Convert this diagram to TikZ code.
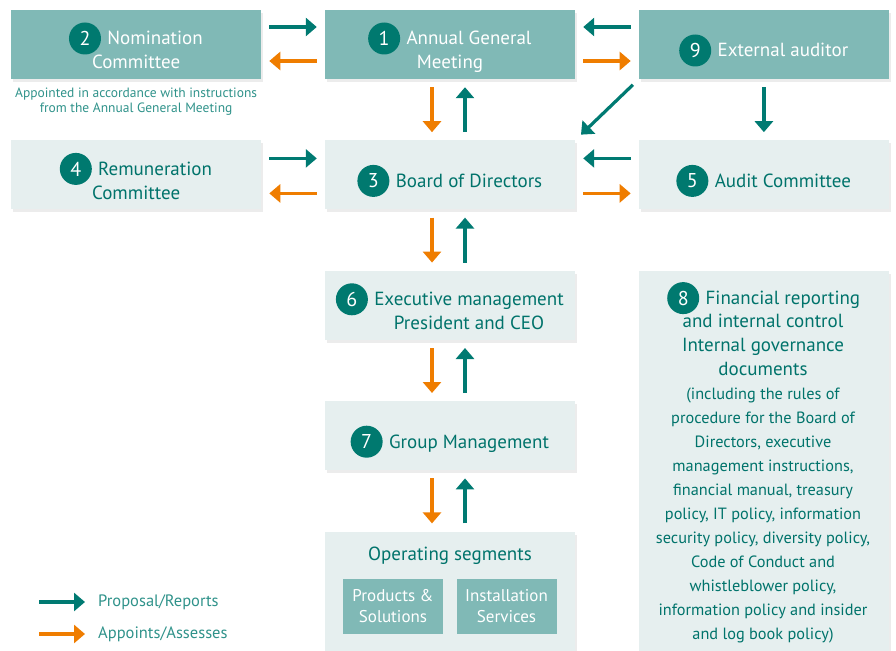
\documentclass[tikz,border=0pt]{standalone}
\usepackage{fontspec}
\setmainfont{PT Sans}
\usetikzlibrary{arrows.meta, positioning, shadows}

\definecolor{unitdark}{HTML}{80B9B6}
\definecolor{unitlight}{HTML}{E6EFEF}
\definecolor{badgeteal}{HTML}{00796F}
\definecolor{titleteal}{HTML}{00736B}
\definecolor{noteteal}{HTML}{2F928A}
\definecolor{reportteal}{HTML}{007A72}
\definecolor{assessorange}{HTML}{EF7D00}

\tikzstyle{unit} = [rectangle, minimum width=250pt, minimum height=69pt, inner sep=0pt, drop shadow={shadow xshift=2pt, shadow yshift=-3pt, opacity=0.15}]
\tikzstyle{darkunit} = [unit, fill=unitdark]
\tikzstyle{lightunit} = [unit, fill=unitlight]
\tikzstyle{segment} = [rectangle, fill=unitdark, minimum width=100pt, minimum height=55pt, inner sep=0pt, text=white, align=center, font=\fontsize{17}{21}\selectfont]
\tikzstyle{title} = [inner sep=0pt, text height=13pt, text depth=0pt, font=\fontsize{19}{24}\selectfont]
\tikzstyle{darktitle} = [title, text=white]
\tikzstyle{lighttitle} = [title, text=titleteal]
\tikzstyle{doctext} = [inner sep=0pt, text=titleteal, align=center, anchor=north]
\tikzstyle{badge} = [circle, fill=badgeteal, text=white, minimum size=32pt, inner sep=0pt, font=\fontsize{20}{20}\selectfont]
\tikzstyle{note} = [inner sep=0pt, text=noteteal, align=center, font=\fontsize{13.5}{15}\selectfont]
\tikzstyle{legend} = [inner sep=0pt, text=noteteal, font=\fontsize{16.5}{16.5}\selectfont]
\tikzstyle{report} = [draw=reportteal, line width=3.2pt, -{Triangle[length=11pt, width=18pt]}, shorten <=8pt, shorten >=8pt]
\tikzstyle{assess} = [report, draw=assessorange]

\begin{document}
\begin{tikzpicture}[x=1pt, y=-1pt, node distance=61pt and 63.5pt]
\useasboundingbox (0,0) rectangle (896,650);

% Units (boxes)
\node[darkunit] (agm) at (450,44.5) {};
\node[darkunit, left=of agm] (nom) {};
\node[darkunit, right=of agm] (ext) {};
\node[lightunit, below=of nom] (rem) {};
\node[lightunit, below=of agm] (board) {};
\node[lightunit, below=of ext] (audit) {};
\node[lightunit, below=of board] (exec) {};
\node[lightunit, below=of exec] (group) {};
\node[lightunit, below=of group, minimum height=120pt] (segments) {};
\node[lightunit, below=of audit, minimum height=380pt] (docs) {};
\node[segment] (products) at (393,606) {Products \&\\Solutions};
\node[segment] (install) at (506.5,606) {Installation\\Services};

% Titles and numbers
\node[darktitle] (nomtop) at ([xshift=19pt, yshift=6pt]nom.center) {Nomination};
\node[badge, left=6pt of nomtop] (nomnr) {2};
\node[darktitle] (nombot) at ([yshift=-18pt]nom.center) {Committee};
\node[note, below=9pt of nom] (nomnote) {Appointed in accordance with instructions\\from the Annual General Meeting};

\node[darktitle] (agmtop) at ([xshift=19pt, yshift=6pt]agm.center) {Annual General};
\node[badge, left=6pt of agmtop] (agmnr) {1};
\node[darktitle] (agmbot) at ([yshift=-18pt]agm.center) {Meeting};

\node[darktitle] (exttop) at ([xshift=19pt, yshift=-6pt]ext.center) {External auditor};
\node[badge, left=6pt of exttop] (extnr) {9};

\node[lighttitle] (remtop) at ([xshift=19pt, yshift=6pt]rem.center) {Remuneration};
\node[badge, left=6pt of remtop] (remnr) {4};
\node[lighttitle] (rembot) at ([yshift=-18pt]rem.center) {Committee};

\node[lighttitle] (boardtop) at ([xshift=19pt, yshift=-6pt]board.center) {Board of Directors};
\node[badge, left=6pt of boardtop] (boardnr) {3};

\node[lighttitle] (audittop) at ([xshift=19pt, yshift=-6pt]audit.center) {Audit Committee};
\node[badge, left=6pt of audittop] (auditnr) {5};

\node[lighttitle] (exectop) at ([xshift=19pt, yshift=6pt]exec.center) {Executive management};
\node[badge, left=6pt of exectop] (execnr) {6};
\node[lighttitle] (execbot) at ([yshift=-24pt]exectop.center) {President and CEO};

\node[lighttitle] (grouptop) at ([xshift=19pt, yshift=-6pt]group.center) {Group Management};
\node[badge, left=6pt of grouptop] (groupnr) {7};

\node[lighttitle] (segtop) at ([yshift=-23pt]segments.north) {Operating segments};

\node[lighttitle] (docstop) at ([xshift=19pt, yshift=-27.5pt]docs.north) {Financial reporting};
\node[badge, left=6pt of docstop] (docsnr) {8};
\node[doctext, font=\fontsize{19}{24}\selectfont] (docshead) at (763,314) {and internal control\\Internal governance\\documents};
\node[doctext, font=\fontsize{16.3}{24}\selectfont] (docsbody) at (763,388) {(including the rules of\\procedure for the Board of\\Directors, executive\\management instructions,\\financial manual, treasury\\policy, IT policy, information\\security policy, diversity policy,\\Code of Conduct and\\whistleblower policy,\\information policy and insider\\and log book policy)};

% Arrows (Proposal/Reports and Appoints/Assesses)
\draw[report] ([yshift=17.5pt]nom.east) -- ([yshift=17.5pt]agm.west);
\draw[assess] ([yshift=-16.5pt]agm.west) -- ([yshift=-16.5pt]nom.east);
\draw[report] ([yshift=17.5pt]ext.west) -- ([yshift=17.5pt]agm.east);
\draw[assess] ([yshift=-16.5pt]agm.east) -- ([yshift=-16.5pt]ext.west);
\draw[assess] ([xshift=-18pt]agm.south) -- ([xshift=-18pt]board.north);
\draw[report] ([xshift=15pt]board.north) -- ([xshift=15pt]agm.south);
\draw[report] (ext.south west) -- (board.north east);
\draw[report] (ext) -- (audit);
\draw[report] ([yshift=16.5pt]rem.east) -- ([yshift=16.5pt]board.west);
\draw[assess] ([yshift=-18.5pt]board.west) -- ([yshift=-18.5pt]rem.east);
\draw[report] ([yshift=16.5pt]audit.west) -- ([yshift=16.5pt]board.east);
\draw[assess] ([yshift=-18.5pt]board.east) -- ([yshift=-18.5pt]audit.west);
\draw[assess] ([xshift=-18pt]board.south) -- ([xshift=-18pt]exec.north);
\draw[report] ([xshift=15pt]exec.north) -- ([xshift=15pt]board.south);
\draw[assess] ([xshift=-18pt]exec.south) -- ([xshift=-18pt]group.north);
\draw[report] ([xshift=15pt]group.north) -- ([xshift=15pt]exec.south);
\draw[assess] ([xshift=-18pt]group.south) -- ([xshift=-18pt]segments.north);
\draw[report] ([xshift=15pt]segments.north) -- ([xshift=15pt]group.south);

% Legend
\coordinate (reportfrom) at (39,602);
\node[legend, anchor=west] (reportkey) at (98,602) {Proposal/Reports};
\draw[report, shorten <=0pt, shorten >=13pt] (reportfrom) -- (reportkey);
\coordinate (assessfrom) at (39,634);
\node[legend, anchor=west] (assesskey) at (98,634) {Appoints/Assesses};
\draw[assess, shorten <=0pt, shorten >=13pt] (assessfrom) -- (assesskey);

\end{tikzpicture}
\end{document}
